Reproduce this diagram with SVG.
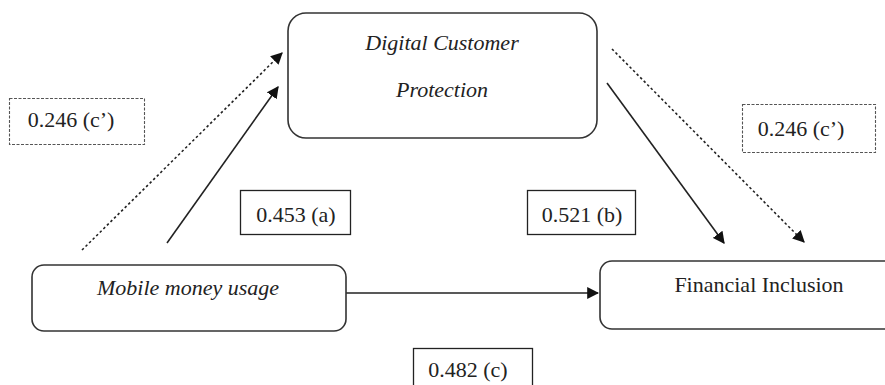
<svg xmlns="http://www.w3.org/2000/svg" width="885" height="385" viewBox="0 0 885 385">
<style>
.node{fill:#fff;stroke:#333;stroke-width:1.6}
.lbl{fill:#fff;stroke:#222;stroke-width:1.3}
.dlbl{fill:#fff;stroke:#555;stroke-width:1.1;stroke-dasharray:3 1.5}
.c{stroke:#222;stroke-width:1.6;fill:none}
.dot{stroke-dasharray:2.5 2.5}
</style>
<defs>
<marker id="ah" viewBox="0 0 10 10" refX="9" refY="5" markerWidth="12" markerHeight="12" markerUnits="userSpaceOnUse" orient="auto">
<path d="M0,0 L10,5 L0,10 Z" fill="#111"/>
</marker>
</defs>
<rect width="885" height="385" fill="#fff"/>
<g id="connectors">
<line class="c dot" x1="82" y1="250" x2="282" y2="53" marker-end="url(#ah)"/>
<line class="c" x1="167" y1="243" x2="278" y2="87" marker-end="url(#ah)"/>
<line class="c" x1="607" y1="83" x2="724" y2="243" marker-end="url(#ah)"/>
<line class="c dot" x1="612" y1="49" x2="804" y2="242" marker-end="url(#ah)"/>
<line class="c" x1="346" y1="293" x2="598" y2="293" marker-end="url(#ah)"/>
</g>
<g font-family="'Liberation Serif', 'Times New Roman', Times, serif" font-size="22" fill="#222" text-anchor="middle">
<g id="dcp">
<rect class="node" x="288" y="13" width="309" height="125" rx="18"/>
<text font-style="italic" x="442" y="50">Digital Customer</text>
<text font-style="italic" x="442" y="97">Protection</text>
</g>
<g id="mmu">
<rect class="node" x="32" y="265" width="314" height="66" rx="12"/>
<text font-style="italic" x="188" y="295">Mobile money usage</text>
</g>
<g id="fi">
<rect class="node" x="600" y="261" width="300" height="68" rx="12"/>
<text x="759" y="292">Financial Inclusion</text>
</g>
<g id="label-c1">
<rect class="dlbl" x="9.5" y="98.5" width="135" height="46"/>
<text x="71" y="127">0.246 (c’)</text>
</g>
<g id="label-c2">
<rect class="dlbl" x="742.5" y="104.5" width="133" height="48"/>
<text x="801" y="136">0.246 (c’)</text>
</g>
<g id="label-a">
<rect class="lbl" x="240.5" y="190.5" width="110" height="44"/>
<text x="296" y="222">0.453 (a)</text>
</g>
<g id="label-b">
<rect class="lbl" x="527.5" y="190.5" width="108" height="44"/>
<text x="582" y="222">0.521 (b)</text>
</g>
<g id="label-c">
<rect class="lbl" x="413.5" y="348.5" width="119" height="40"/>
<text x="468" y="377">0.482 (c)</text>
</g>
</g>
</svg>
